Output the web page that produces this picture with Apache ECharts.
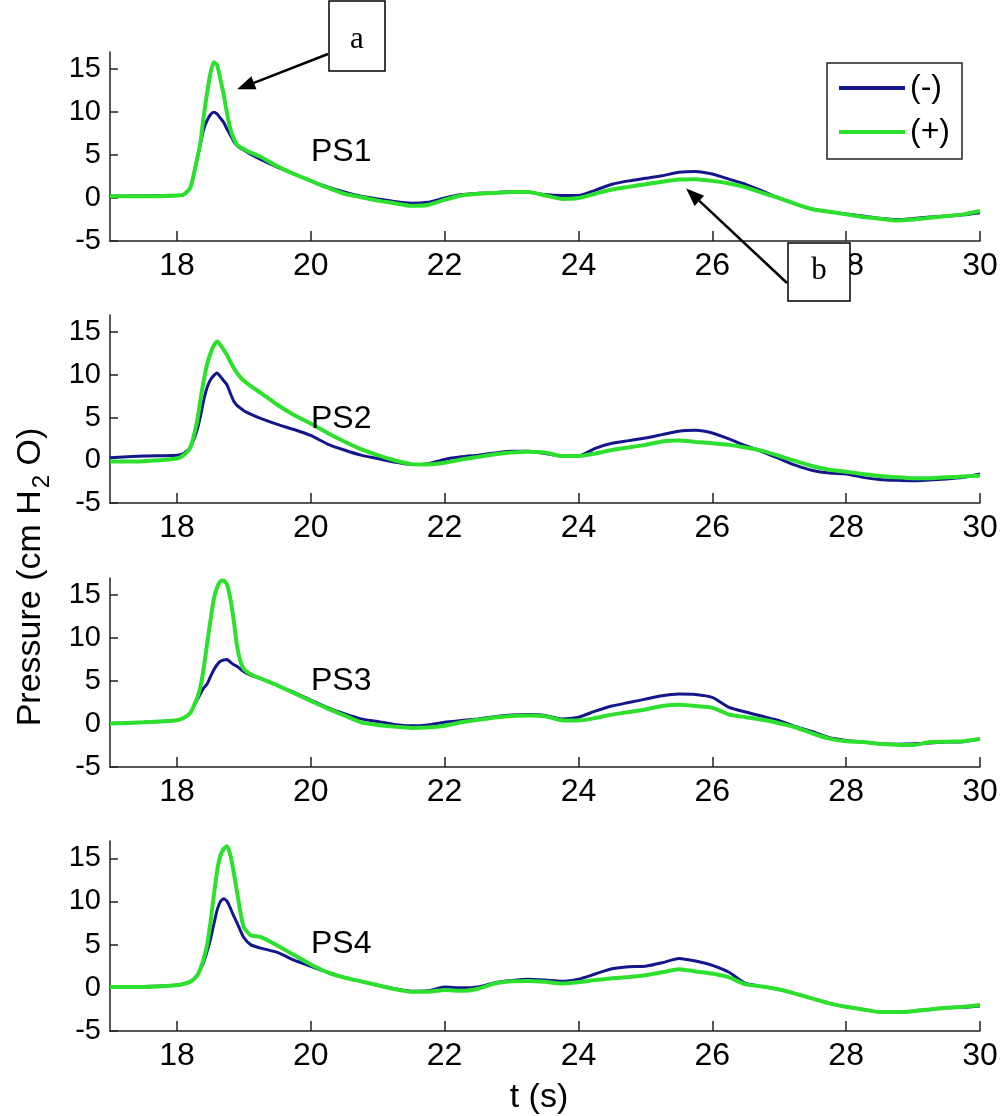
<!DOCTYPE html>
<html>
<head>
<meta charset="utf-8">
<script src="https://cdn.jsdelivr.net/npm/echarts@6/dist/echarts.min.js"></script>
<style>
html,body{margin:0;padding:0;background:#fff;}
#chart{width:1003px;height:1116px;}
</style>
</head>
<body>
<div id="chart"></div>
<script>
// ---------- data ----------
const time = [17, 17.5, 18, 18.1, 18.2, 18.3, 18.35, 18.4, 18.45, 18.5, 18.55, 18.6, 18.65, 18.7, 18.75, 18.8, 18.85, 18.9, 18.95, 19.0,
  19.1, 19.25, 19.5, 19.75, 20, 20.25, 20.5, 20.75, 21, 21.25, 21.5, 21.75, 22, 22.25, 22.5, 22.75, 23, 23.25, 23.5, 23.75,
  24, 24.25, 24.5, 24.75, 25, 25.25, 25.5, 25.75, 26, 26.25, 26.5, 26.75, 27, 27.25, 27.5, 27.75, 28, 28.25, 28.5, 28.75,
  29, 29.25, 29.5, 29.75, 30];

const ps1Minus = [0.2, 0.25, 0.3, 0.4, 1.2, 4.5, 6.3, 8.0, 9.0, 9.7, 10.0, 9.8, 9.3, 8.8, 8.0, 7.3, 6.6, 6.1, 5.8, 5.6,
  5.1, 4.5, 3.6, 2.8, 2.0, 1.3, 0.7, 0.2, -0.1, -0.4, -0.6, -0.5, 0.0, 0.4, 0.55, 0.65, 0.75, 0.7, 0.4, 0.3,
  0.3, 0.9, 1.6, 2.0, 2.3, 2.6, 3.0, 3.1, 2.8, 2.2, 1.6, 0.8, 0.0, -0.7, -1.3, -1.6, -1.85, -2.1, -2.35, -2.5,
  -2.4, -2.2, -2.1, -1.95, -1.7];
const ps1Plus = [0.2, 0.2, 0.3, 0.4, 1.2, 4.5, 6.4, 9.5, 12.2, 14.5, 15.8, 15.5, 13.8, 12.0, 9.8, 8.0, 6.9, 6.2, 5.9, 5.7,
  5.3, 4.8, 3.7, 2.8, 2.0, 1.2, 0.5, 0.1, -0.3, -0.6, -0.9, -0.8, -0.2, 0.3, 0.5, 0.6, 0.7, 0.7, 0.3, -0.1,
  0.0, 0.5, 1.0, 1.3, 1.6, 1.9, 2.15, 2.2, 2.0, 1.7, 1.25, 0.6, 0.0, -0.7, -1.3, -1.6, -1.9, -2.2, -2.4, -2.6,
  -2.5, -2.3, -2.1, -1.9, -1.5];

const ps2Minus = [0.3, 0.5, 0.6, 0.8, 1.5, 3.5, 5.1, 7.0, 8.5, 9.4, 9.9, 10.2, 9.8, 9.3, 8.8, 7.8, 6.9, 6.4, 6.1, 5.8,
  5.4, 4.9, 4.2, 3.6, 2.9, 1.9, 1.2, 0.6, 0.2, -0.2, -0.5, -0.4, 0.1, 0.4, 0.6, 0.85, 1.05, 1.05, 0.8, 0.5,
  0.5, 1.4, 2.0, 2.3, 2.6, 3.0, 3.4, 3.5, 3.2, 2.5, 1.7, 1.0, 0.2, -0.6, -1.2, -1.5, -1.6, -2.0, -2.25, -2.35,
  -2.4, -2.3, -2.2, -2.0, -1.6];
const ps2Plus = [-0.15, -0.1, 0.2, 0.6, 1.5, 4.5, 7.0, 9.3, 11.2, 12.5, 13.4, 13.9, 13.5, 12.9, 12.3, 11.5, 10.8, 10.2, 9.7, 9.3,
  8.7, 7.9, 6.5, 5.3, 4.3, 3.2, 2.2, 1.3, 0.6, 0.0, -0.45, -0.5, -0.3, 0.1, 0.4, 0.7, 0.9, 1.0, 0.9, 0.5,
  0.5, 0.8, 1.2, 1.5, 1.8, 2.2, 2.3, 2.15, 2.0, 1.8, 1.5, 1.1, 0.5, -0.1, -0.7, -1.1, -1.35, -1.6, -1.85, -2.0,
  -2.1, -2.1, -2.0, -1.9, -1.8];

const ps3Minus = [0.05, 0.2, 0.45, 0.7, 1.3, 2.8, 3.5, 4.2, 4.65, 5.5, 6.3, 6.9, 7.3, 7.45, 7.5, 7.2, 6.9, 6.7, 6.4, 6.1,
  5.7, 5.3, 4.5, 3.7, 2.8, 1.9, 1.2, 0.6, 0.3, -0.05, -0.2, -0.1, 0.2, 0.4, 0.6, 0.85, 1.05, 1.1, 1.0, 0.6,
  0.8, 1.5, 2.1, 2.5, 2.9, 3.3, 3.5, 3.45, 3.1, 1.95, 1.4, 0.9, 0.4, -0.3, -0.9, -1.6, -1.9, -2.1, -2.3, -2.35,
  -2.3, -2.2, -2.1, -2.05, -1.75];
const ps3Plus = [0.05, 0.2, 0.45, 0.7, 1.3, 3.0, 4.3, 6.5, 9.3, 12.0, 14.5, 15.9, 16.6, 16.7, 16.2, 14.5, 12.0, 9.0, 7.3, 6.4,
  5.8, 5.3, 4.5, 3.6, 2.7, 1.8, 1.0, 0.2, -0.1, -0.3, -0.45, -0.4, -0.2, 0.2, 0.5, 0.75, 0.95, 1.0, 0.9, 0.45,
  0.4, 0.7, 1.1, 1.4, 1.7, 2.1, 2.25, 2.1, 1.9, 1.1, 0.8, 0.5, 0.1, -0.4, -1.1, -1.7, -2.0, -2.1, -2.3, -2.4,
  -2.45, -2.1, -2.05, -2.0, -1.75];

const ps4Minus = [0.1, 0.15, 0.3, 0.45, 0.7, 1.4, 2.1, 3.0, 4.2, 5.6, 7.3, 9.0, 10.0, 10.3, 10.0, 9.2, 8.3, 7.5, 6.6, 5.8,
  5.0, 4.6, 4.1, 3.2, 2.5, 1.8, 1.2, 0.75, 0.3, -0.1, -0.4, -0.35, 0.1, 0.0, 0.1, 0.6, 0.85, 1.0, 0.9, 0.75,
  1.0, 1.6, 2.2, 2.45, 2.5, 2.9, 3.4, 3.1, 2.6, 1.8, 0.5, 0.15, -0.2, -0.7, -1.25, -1.8, -2.2, -2.5, -2.8, -2.8,
  -2.7, -2.5, -2.3, -2.25, -2.1];
const ps4Plus = [0.1, 0.1, 0.3, 0.45, 0.7, 1.4, 2.2, 3.4, 4.95, 7.5, 10.6, 13.5, 15.3, 16.1, 16.4, 15.3, 13.3, 11.0, 8.7, 7.0,
  6.1, 5.9, 4.9, 3.8, 2.7, 1.8, 1.2, 0.75, 0.3, -0.15, -0.45, -0.45, -0.25, -0.35, -0.1, 0.5, 0.75, 0.8, 0.7, 0.5,
  0.65, 0.9, 1.1, 1.25, 1.45, 1.8, 2.15, 1.9, 1.65, 1.2, 0.4, 0.15, -0.2, -0.7, -1.25, -1.8, -2.2, -2.5, -2.8, -2.8,
  -2.7, -2.5, -2.3, -2.2, -2.0];

const panelLabels = ['PS1', 'PS2', 'PS3', 'PS4'];
const seriesNames = ['(-)', '(+)'];
const xTicks = [18, 20, 22, 24, 26, 28, 30];
const yTicks = [-5, 0, 5, 10, 15];
const xRange = [17, 30];
const yRange = [-5, 17];
const panelData = [[ps1Minus, ps1Plus], [ps2Minus, ps2Plus], [ps3Minus, ps3Plus], [ps4Minus, ps4Plus]];

// ---------- layout / style ----------
const FONT = 'Liberation Sans, Arial, sans-serif';
const BLUE = '#14168c';
const GREEN = '#2ee02e';
const gridTops = [52, 315, 578, 841];
const gridHeights = [189, 188, 189, 190];

const pair = (arr) => time.map((t, i) => [t, arr[i]]);

const grids = [], xAxes = [], yAxes = [], series = [];
panelData.forEach((pd, k) => {
  grids.push({left: 110, right: 23, top: gridTops[k], height: gridHeights[k], containLabel: false});
  xAxes.push({
    type: 'value', gridIndex: k, min: xRange[0], max: xRange[1],
    axisLine: {show: true, onZero: false, lineStyle: {color: '#222', width: 1.5}},
    axisTick: {show: true, inside: true, length: 10, customValues: xTicks, lineStyle: {color: '#222', width: 1.5}},
    axisLabel: {customValues: xTicks, color: '#000', fontFamily: FONT, fontSize: 32, margin: 9},
    splitLine: {show: false}
  });
  yAxes.push({
    type: 'value', gridIndex: k, min: yRange[0], max: yRange[1],
    axisLine: {show: true, onZero: false, lineStyle: {color: '#222', width: 1.5}},
    axisTick: {show: true, inside: true, length: 8, customValues: yTicks, lineStyle: {color: '#222', width: 1.5}},
    axisLabel: {customValues: yTicks, color: '#000', fontFamily: FONT, fontSize: 29, margin: 9},
    splitLine: {show: false}
  });
  series.push({
    name: seriesNames[0], type: 'line', xAxisIndex: k, yAxisIndex: k,
    data: pair(pd[0]), symbol: 'none', smooth: 0.2,
    lineStyle: {color: BLUE, width: 3}, itemStyle: {color: BLUE}, z: 2
  });
  series.push({
    name: seriesNames[1], type: 'line', xAxisIndex: k, yAxisIndex: k,
    data: pair(pd[1]), symbol: 'none', smooth: 0.2,
    lineStyle: {color: GREEN, width: 4}, itemStyle: {color: GREEN}, z: 3
  });
});

const chart = echarts.init(document.getElementById('chart'), null, {renderer: 'canvas'});
chart.setOption({
  animation: false,
  backgroundColor: '#fff',
  grid: grids, xAxis: xAxes, yAxis: yAxes, series: series,
  legend: {
    data: seriesNames, orient: 'vertical', left: 827, top: 63,
    itemWidth: 66, itemHeight: 14, itemGap: 8,
    padding: [7, 12, 9, 12],
    borderColor: '#222', borderWidth: 1.5, backgroundColor: '#fff',
    textStyle: {fontFamily: FONT, fontSize: 32, color: '#000', lineHeight: 36},
    icon: 'path://M0,0 L66,0 L66,4 L0,4 Z'
  }
});

// ---------- annotations ----------
function arrow(tail, tip, id) {
  const dx = tip[0] - tail[0], dy = tip[1] - tail[1];
  const len = Math.sqrt(dx * dx + dy * dy);
  const ux = dx / len, uy = dy / len;
  const hl = 18, hw = 7;
  const bx = tip[0] - ux * hl, by = tip[1] - uy * hl;
  return [
    {type: 'line', id: id + 'L', z: 100, shape: {x1: tail[0], y1: tail[1], x2: bx, y2: by},
     style: {stroke: '#000', lineWidth: 2.5}},
    {type: 'polygon', id: id + 'H', z: 100,
     shape: {points: [[tip[0], tip[1]], [bx - uy * hw, by + ux * hw], [bx + uy * hw, by - ux * hw]]},
     style: {fill: '#000'}}
  ];
}
const tipA = chart.convertToPixel({gridIndex: 0}, [18.9, 12.65]);
const tipB = chart.convertToPixel({gridIndex: 0}, [25.61, 1.1]);
const psY = [152, 419, 681, 944];

const graphics = [];
graphics.push({type: 'rect', z: 100, shape: {x: 329, y: 1, width: 56, height: 70},
  style: {fill: '#fff', stroke: '#000', lineWidth: 1.5}});
graphics.push({type: 'text', z: 101, x: 357, y: 40,
  style: {text: 'a', fontFamily: 'Liberation Serif, Times New Roman, serif', fontSize: 31, fill: '#000', align: 'center', verticalAlign: 'middle'}});
graphics.push({type: 'rect', z: 100, shape: {x: 788, y: 243, width: 62, height: 58},
  style: {fill: '#fff', stroke: '#000', lineWidth: 1.5}});
graphics.push({type: 'text', z: 101, x: 819, y: 271,
  style: {text: 'b', fontFamily: 'Liberation Serif, Times New Roman, serif', fontSize: 31, fill: '#000', align: 'center', verticalAlign: 'middle'}});
graphics.push(...arrow([328, 54], tipA, 'aa'));
graphics.push(...arrow([787, 283], tipB, 'ab'));
panelLabels.forEach((s, k) => {
  graphics.push({type: 'text', z: 50, x: 311, y: psY[k],
    style: {text: s, fontFamily: FONT, fontSize: 32, fill: '#000', align: 'left', verticalAlign: 'middle'}});
});
graphics.push({type: 'text', z: 50, x: 539, y: 1098,
  style: {text: 't (s)', fontFamily: FONT, fontSize: 34, fill: '#000', align: 'center', verticalAlign: 'middle'}});
graphics.push({type: 'text', z: 50, x: 31, y: 577, rotation: Math.PI / 2,
  style: {text: '{n|Pressure (cm H}{s|2}{n| O)}', align: 'center', verticalAlign: 'middle', fill: '#000',
    rich: {n: {fontFamily: FONT, fontSize: 34, fill: '#000', lineHeight: 40},
           s: {fontFamily: FONT, fontSize: 24, fill: '#000', padding: [22, 0, 0, 2], lineHeight: 24}}}});
chart.setOption({graphic: graphics});
</script>
</body>
</html>
